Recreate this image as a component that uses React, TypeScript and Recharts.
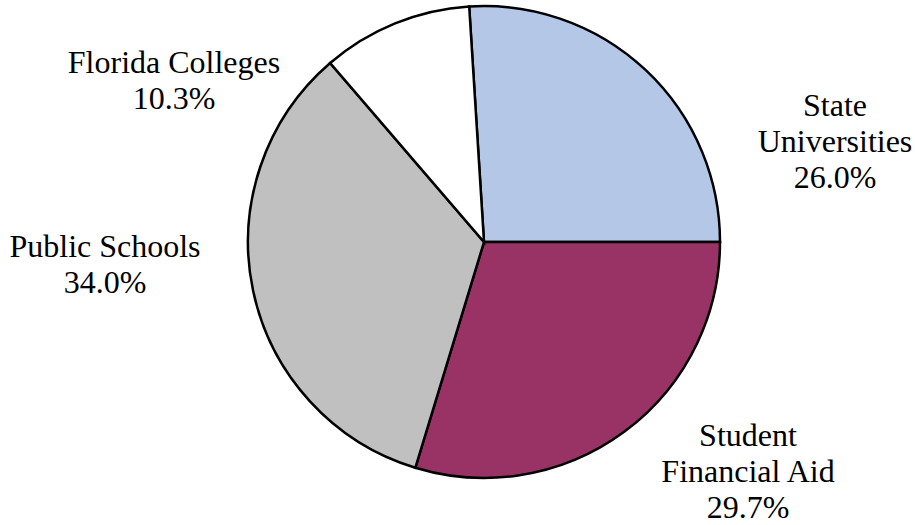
import React from 'react';
import { PieChart, Pie, Cell } from 'recharts';

const categories = ['State Universities', 'Student Financial Aid', 'Public Schools', 'Florida Colleges'];
const shares = [26.0, 29.7, 34.0, 10.3];
const labelText = [['State', 'Universities'], ['Student', 'Financial Aid'], ['Public Schools'], ['Florida Colleges']];

const colors = ['#B4C7E7', '#993366', '#C0C0C0', '#FFFFFF'];
// label anchor (centre x, first baseline) relative to the pie centre
const labelOffsets = [
  [351, -126],
  [264, 204],
  [-379, 15],
  [-310, -169],
];

const data = categories.map((name, i) => ({ name, value: shares[i] }));

const W = 915;
const H = 525;
const CX = 484;
const CY = 242;
const LINE = 36;

export default function App() {
  return (
    <div style={{ position: 'absolute', left: 0, top: 0, width: W, height: H, background: '#fff' }}>
      <PieChart width={W} height={H} margin={{ top: 0, right: 0, bottom: 0, left: 0 }}>
        <Pie
          data={data}
          dataKey="value"
          nameKey="name"
          cx={CX}
          cy={CY}
          outerRadius={236}
          startAngle={93.6}
          endAngle={-266.4}
          stroke="#000"
          strokeWidth={2.5}
          label={false}
          labelLine={false}
          isAnimationActive={false}
        >
          {data.map((d, i) => (
            <Cell key={d.name} fill={colors[i]} stroke="#000" strokeWidth={2.5} />
          ))}
        </Pie>
      </PieChart>
      <svg width={W} height={H} style={{ position: 'absolute', left: 0, top: 0, pointerEvents: 'none' }}>
        {data.map((d, idx) => {
          const [dx, dy] = labelOffsets[idx];
          const lines = [...labelText[idx], `${d.value.toFixed(1)}%`];
          return lines.map((l, i) => (
            <text
              key={`${idx}-${i}`}
              x={CX + dx}
              y={CY + dy + i * LINE}
              textAnchor="middle"
              fill="#000"
              fontFamily="Liberation Serif"
              fontSize={32}
            >
              {l}
            </text>
          ));
        })}
      </svg>
    </div>
  );
}
